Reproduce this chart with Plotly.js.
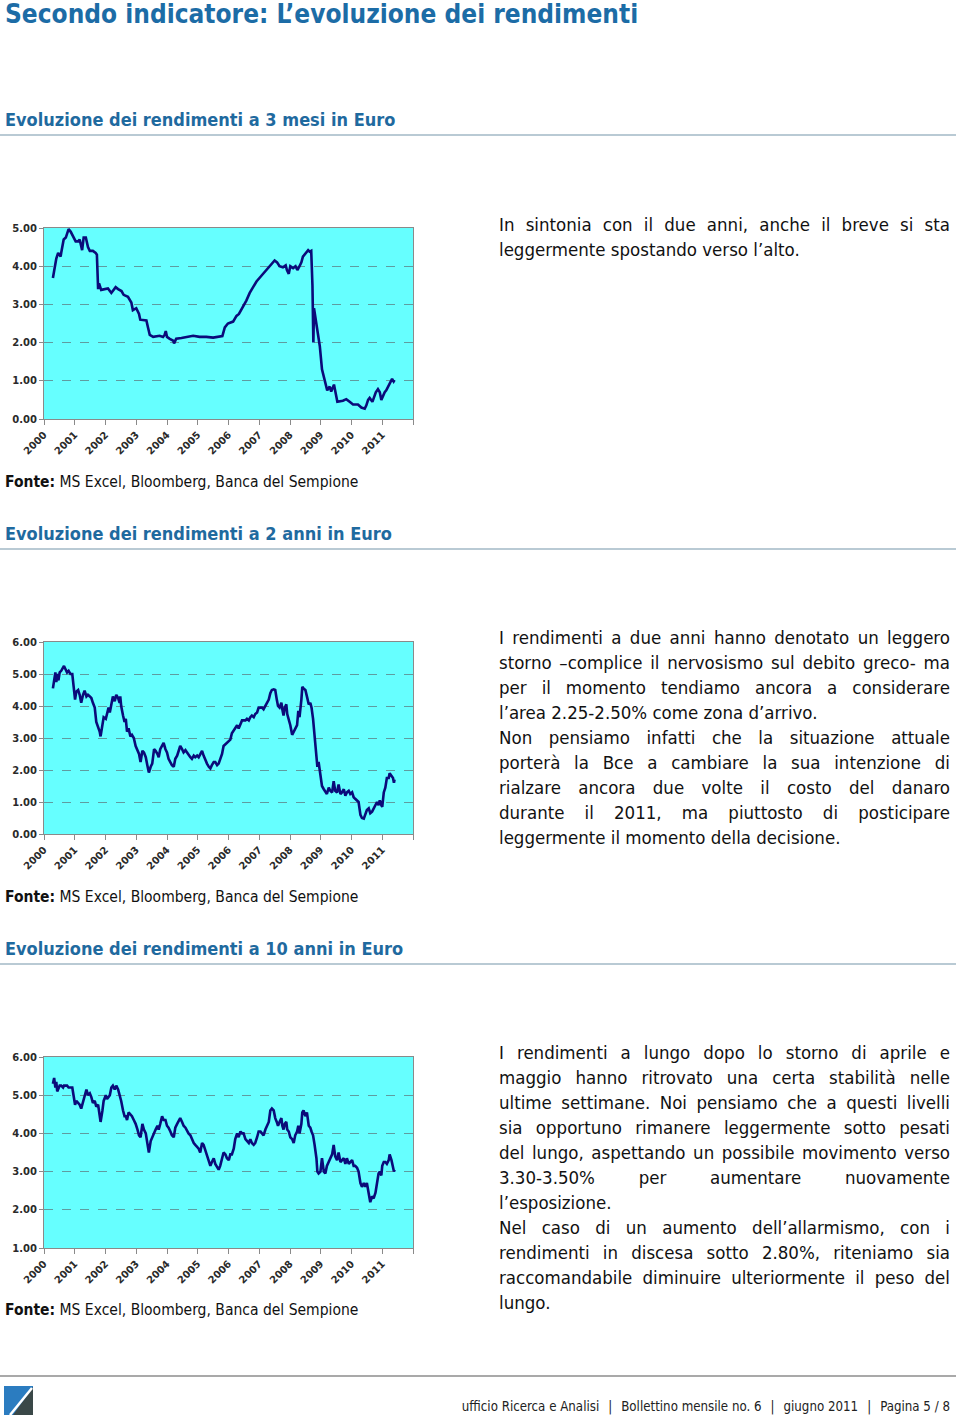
<!DOCTYPE html>
<html>
<head>
<meta charset="utf-8">
<script src="https://cdn.plot.ly/plotly-3.0.1.min.js"></script>
<style>
  html, body { margin:0; padding:0; background:#fff; }
  body { width:960px; height:1418px; position:relative; overflow:hidden;
         font-family:"Liberation Sans Narrow","Arial Narrow","DejaVu Sans Condensed",Lato,sans-serif; color:#111; }
  .abs { position:absolute; white-space:nowrap; }
  .title { left:5px; top:0px; font-size:26px; line-height:28px; font-weight:bold; color:#1c6ca6; }
  .hdr { left:5px; font-size:18px; font-weight:bold; color:#1f6a9f; }
  .rule { position:absolute; left:0; width:956px; height:2px; background:#b9cad4; }
  .fonte { left:5px; font-size:15.5px; color:#111; }
  .fonte b { font-weight:bold; }
  .txt { position:absolute; left:499px; width:451px; font-size:18.5px; line-height:25px; color:#111; }
  .txt div { white-space:nowrap; }
  .txt .j { text-align:justify; text-align-last:justify; }
  .chart { position:absolute; left:0; width:420px; height:250px; }
  .footer { right:10px; top:1399px; font-size:13.2px; color:#222; }
  .footer .sep { display:inline-block; margin:0 9px; }
</style>
</head>
<body>

<div class="abs title">Secondo indicatore: L’evoluzione dei rendimenti</div>

<div class="abs hdr" style="top:109px">Evoluzione dei rendimenti a 3 mesi in Euro</div>
<div class="rule" style="top:134px"></div>
<div id="c1" class="chart" style="top:215px"></div>
<div class="txt" style="top:212px">
  <div class="j">In sintonia con il due anni, anche il breve si sta</div>
  <div>leggermente spostando verso l’alto.</div>
</div>
<div class="abs fonte" style="top:473px"><b>Fonte:</b> MS Excel, Bloomberg, Banca del Sempione</div>

<div class="abs hdr" style="top:523px">Evoluzione dei rendimenti a 2 anni in Euro</div>
<div class="rule" style="top:548px"></div>
<div id="c2" class="chart" style="top:629px"></div>
<div class="txt" style="top:625px">
  <div class="j">I rendimenti a due anni hanno denotato un leggero</div>
  <div class="j">storno –complice il nervosismo sul debito greco- ma</div>
  <div class="j">per il momento tendiamo ancora a considerare</div>
  <div>l’area 2.25-2.50% come zona d’arrivo.</div>
  <div class="j">Non pensiamo infatti che la situazione attuale</div>
  <div class="j">porterà la Bce a cambiare la sua intenzione di</div>
  <div class="j">rialzare ancora due volte il costo del danaro</div>
  <div class="j">durante il 2011, ma piuttosto di posticipare</div>
  <div>leggermente il momento della decisione.</div>
</div>
<div class="abs fonte" style="top:888px"><b>Fonte:</b> MS Excel, Bloomberg, Banca del Sempione</div>

<div class="abs hdr" style="top:938px">Evoluzione dei rendimenti a 10 anni in Euro</div>
<div class="rule" style="top:963px"></div>
<div id="c3" class="chart" style="top:1044px"></div>
<div class="txt" style="top:1040px">
  <div class="j">I rendimenti a lungo dopo lo storno di aprile e</div>
  <div class="j">maggio hanno ritrovato una certa stabilità nelle</div>
  <div class="j">ultime settimane. Noi pensiamo che a questi livelli</div>
  <div class="j">sia opportuno rimanere leggermente sotto pesati</div>
  <div class="j">del lungo, aspettando un possibile movimento verso</div>
  <div class="j">3.30-3.50% per aumentare nuovamente</div>
  <div>l’esposizione.</div>
  <div class="j">Nel caso di un aumento dell’allarmismo, con i</div>
  <div class="j">rendimenti in discesa sotto 2.80%, riteniamo sia</div>
  <div class="j">raccomandabile diminuire ulteriormente il peso del</div>
  <div>lungo.</div>
</div>
<div class="abs fonte" style="top:1301px"><b>Fonte:</b> MS Excel, Bloomberg, Banca del Sempione</div>

<div class="rule" style="top:1375px; background:#a9a9a9; height:2px;"></div>
<svg style="position:absolute; left:4px; top:1386px" width="29" height="29" viewBox="0 0 29 29">
  <rect x="0" y="0" width="29" height="29" fill="#2b7cc0"/>
  <polygon points="29,1 29,29 9,29" fill="#3a4848"/>
  <line x1="6" y1="29" x2="28" y2="2" stroke="#ffffff" stroke-width="2.5"/>
</svg>
<div class="abs footer">ufficio Ricerca e Analisi<span class="sep">|</span>Bollettino mensile no. 6<span class="sep">|</span>giugno 2011<span class="sep">|</span>Pagina 5 / 8</div>

<script>
// ---- Data (decimal years, yields in %) ----
const years3m = [2000.29,2000.40,2000.46,2000.54,2000.56,2000.64,2000.71,2000.76,2000.80,2000.87,2000.94,
  2001.03,2001.11,2001.16,2001.24,2001.29,2001.36,2001.43,2001.49,2001.59,2001.68,2001.72,2001.76,2001.79,2001.86,
  2002.03,2002.08,2002.19,2002.24,2002.33,2002.41,2002.52,2002.59,2002.73,2002.84,2002.89,
  2003.00,2003.09,2003.13,2003.33,2003.38,2003.44,2003.55,2003.76,2003.87,2003.92,2003.96,
  2004.00,2004.09,2004.20,2004.23,2004.30,2004.47,2004.63,2004.85,
  2005.06,2005.28,2005.50,2005.71,2005.80,2005.88,2005.98,
  2006.15,2006.26,2006.34,2006.45,2006.58,2006.69,2006.80,2006.91,
  2007.07,2007.23,2007.39,2007.50,2007.58,2007.66,2007.77,2007.86,2007.90,2007.96,
  2008.01,2008.10,2008.18,2008.24,2008.31,2008.37,2008.42,2008.51,2008.59,2008.64,2008.69,2008.73,2008.76,2008.78,2008.82,2008.89,2008.97,
  2009.04,2009.13,2009.21,2009.29,2009.34,2009.43,2009.49,2009.54,2009.72,2009.83,2009.94,
  2010.05,2010.21,2010.32,2010.43,2010.48,2010.54,2010.59,2010.68,2010.72,2010.79,2010.86,2010.92,2010.97,
  2011.02,2011.08,2011.13,2011.19,2011.26,2011.32,2011.37,2011.40];
const yield3m = [3.69,4.20,4.35,4.25,4.35,4.70,4.75,4.85,4.97,4.90,4.80,
  4.65,4.65,4.70,4.42,4.75,4.75,4.50,4.40,4.40,4.35,4.30,3.40,3.55,3.38,
  3.40,3.42,3.30,3.35,3.45,3.40,3.35,3.25,3.20,3.05,2.85,
  2.90,2.75,2.60,2.58,2.40,2.20,2.15,2.18,2.15,2.20,2.30,
  2.15,2.10,2.05,1.98,2.10,2.12,2.15,2.18,
  2.15,2.15,2.13,2.15,2.17,2.40,2.50,
  2.55,2.70,2.75,2.90,3.10,3.30,3.45,3.60,
  3.75,3.90,4.05,4.15,4.10,4.00,3.97,4.02,3.90,3.80,
  4.00,3.95,4.00,3.90,4.00,4.10,4.25,4.35,4.42,4.38,4.40,3.50,2.00,2.90,2.70,2.30,1.90,
  1.30,1.00,0.75,0.85,0.72,0.90,0.65,0.45,0.48,0.52,0.45,
  0.38,0.38,0.30,0.27,0.35,0.50,0.55,0.45,0.55,0.70,0.78,0.70,0.50,
  0.60,0.70,0.75,0.85,0.95,1.05,0.98,1.02];

const yearsLong = [2000.29,2000.33,2000.37,2000.40,2000.43,2000.47,2000.51,2000.56,2000.62,2000.65,2000.70,2000.75,2000.80,2000.86,2000.92,2000.96,
  2001.01,2001.05,2001.11,2001.16,2001.21,2001.27,2001.32,2001.38,2001.43,2001.49,2001.54,2001.59,2001.65,2001.70,2001.76,2001.81,2001.84,2001.90,2001.94,
  2002.01,2002.05,2002.10,2002.14,2002.19,2002.24,2002.30,2002.35,2002.41,2002.46,2002.48,2002.51,2002.57,2002.62,2002.66,2002.70,2002.75,2002.81,2002.86,2002.92,2002.98,
  2003.04,2003.09,2003.14,2003.20,2003.25,2003.31,2003.36,2003.41,2003.47,2003.52,2003.58,2003.63,2003.69,2003.73,2003.78,2003.84,2003.89,2003.95,
  2004.00,2004.05,2004.11,2004.16,2004.22,2004.27,2004.33,2004.38,2004.43,2004.49,2004.54,2004.60,2004.65,2004.70,2004.76,2004.81,2004.87,2004.92,2004.98,
  2005.03,2005.08,2005.14,2005.19,2005.25,2005.30,2005.36,2005.41,2005.46,2005.52,2005.57,2005.63,2005.68,2005.73,2005.79,2005.84,2005.90,2005.95,
  2006.01,2006.06,2006.11,2006.17,2006.22,2006.28,2006.33,2006.39,2006.44,2006.49,2006.55,2006.60,2006.66,2006.71,2006.76,2006.82,2006.87,2006.93,2006.98,
  2007.04,2007.09,2007.14,2007.20,2007.25,2007.31,2007.36,2007.41,2007.47,2007.52,2007.57,2007.61,2007.66,2007.72,2007.75,2007.79,2007.83,2007.88,2007.91,2007.96,
  2008.01,2008.07,2008.12,2008.17,2008.23,2008.27,2008.31,2008.37,2008.40,2008.44,2008.50,2008.55,2008.61,2008.66,2008.70,2008.75,2008.80,2008.86,2008.89,2008.93,2008.99,
  2009.04,2009.10,2009.15,2009.20,2009.26,2009.31,2009.37,2009.42,2009.47,2009.53,2009.58,2009.64,2009.69,2009.75,2009.80,2009.85,2009.91,2009.96,
  2010.02,2010.07,2010.12,2010.18,2010.23,2010.29,2010.34,2010.40,2010.45,2010.50,2010.56,2010.61,2010.67,2010.72,2010.78,2010.83,2010.88,2010.92,2010.97,
  2011.00,2011.05,2011.10,2011.15,2011.21,2011.24,2011.30,2011.35,2011.38,2011.40];
const yield2y = [4.55,4.90,5.05,4.75,5.00,4.80,5.05,5.10,5.20,5.25,5.15,5.05,5.10,5.00,5.00,4.60,
  4.20,4.45,4.50,4.35,4.10,4.35,4.48,4.30,4.35,4.30,4.25,4.10,3.95,3.50,3.35,3.20,3.05,3.45,3.65,
  3.60,3.80,3.95,3.80,4.10,4.30,4.15,4.35,4.25,4.10,4.30,4.00,3.70,3.50,3.60,3.20,3.30,3.05,3.10,3.00,2.75,
  2.60,2.50,2.25,2.60,2.55,2.40,2.15,1.92,2.10,2.20,2.65,2.60,2.50,2.40,2.65,2.75,2.85,2.65,
  2.55,2.35,2.25,2.15,2.10,2.35,2.45,2.60,2.75,2.65,2.55,2.62,2.55,2.45,2.40,2.35,2.45,2.40,2.45,
  2.40,2.50,2.60,2.45,2.30,2.20,2.10,2.05,2.15,2.25,2.25,2.15,2.20,2.35,2.50,2.75,2.80,2.85,
  2.90,2.95,3.15,3.25,3.30,3.40,3.30,3.45,3.55,3.55,3.55,3.60,3.55,3.65,3.70,3.65,3.75,3.80,3.95,
  3.95,3.95,3.90,4.00,4.10,4.20,4.40,4.50,4.52,4.50,4.20,4.00,3.95,4.10,3.90,3.70,3.95,4.05,3.75,3.60,
  3.40,3.10,3.20,3.30,3.40,3.85,3.65,4.20,4.60,4.55,4.50,4.30,4.05,4.10,3.95,3.60,3.00,2.30,2.10,2.25,1.75,
  1.50,1.40,1.30,1.25,1.45,1.35,1.30,1.65,1.35,1.30,1.55,1.25,1.30,1.40,1.20,1.30,1.35,1.25,
  1.30,1.15,1.10,1.05,1.00,0.60,0.50,0.48,0.60,0.75,0.80,0.65,0.70,0.80,0.90,1.00,0.90,1.05,0.90,
  0.85,1.30,1.45,1.75,1.75,1.90,1.80,1.75,1.60,1.70];
const yield10y = [5.30,5.45,5.20,5.35,5.10,5.20,5.25,5.25,5.20,5.25,5.25,5.25,5.20,5.20,5.20,5.00,
  4.75,4.85,4.80,4.75,4.65,4.85,4.95,5.15,5.00,5.05,4.95,4.80,4.85,4.70,4.75,4.50,4.30,4.60,4.85,
  5.00,4.90,4.95,5.00,5.20,5.25,5.15,5.25,5.15,5.00,5.00,4.85,4.60,4.45,4.45,4.35,4.55,4.50,4.45,4.35,4.25,
  4.10,3.95,3.90,4.25,4.10,4.00,3.75,3.50,3.80,3.90,4.05,4.10,4.20,4.10,4.25,4.45,4.35,4.35,
  4.20,4.15,4.05,3.95,3.90,4.15,4.25,4.35,4.40,4.30,4.20,4.15,4.05,4.00,3.95,3.85,3.75,3.70,3.65,
  3.60,3.50,3.75,3.70,3.55,3.40,3.30,3.15,3.25,3.35,3.20,3.10,3.05,3.15,3.35,3.50,3.45,3.35,
  3.30,3.45,3.45,3.60,3.85,4.00,3.90,4.05,4.00,4.00,3.85,3.80,3.75,3.85,3.75,3.70,3.75,3.90,4.05,
  4.05,4.00,3.95,4.10,4.20,4.30,4.60,4.65,4.60,4.40,4.30,4.20,4.30,4.40,4.20,4.10,4.25,4.30,4.10,4.05,
  3.90,3.85,3.75,3.95,4.05,4.20,4.00,4.25,4.55,4.60,4.45,4.55,4.20,4.15,4.05,3.95,3.70,3.35,3.00,2.95,3.00,
  3.35,3.00,2.95,3.15,3.25,3.35,3.45,3.70,3.40,3.30,3.50,3.25,3.30,3.35,3.20,3.35,3.20,3.25,
  3.30,3.15,3.15,3.10,3.00,2.70,2.60,2.70,2.60,2.70,2.40,2.20,2.35,2.30,2.45,2.70,2.95,3.00,2.90,
  3.15,3.25,3.25,3.20,3.30,3.45,3.30,3.10,3.00,3.05];

const tickYears = [2000,2001,2002,2003,2004,2005,2006,2007,2008,2009,2010,2011,2012];
const tickLabels = ['2000','2001','2002','2003','2004','2005','2006','2007','2008','2009','2010','2011',''];

function draw(id, xs, ys, yRange, topMargin, bottomMargin) {
  const tickFont = {family:'DejaVu Sans, Verdana, sans-serif', size:10, weight:'bold', color:'#2a2a2a'};
  const trace = {x:xs, y:ys, type:'scatter', mode:'lines',
                 line:{color:'#0b0b7a', width:2.6}, hoverinfo:'skip'};
  const layout = {
    width:420, height:250,
    margin:{l:44, r:7, t:topMargin, b:bottomMargin, pad:0},
    paper_bgcolor:'rgba(0,0,0,0)', plot_bgcolor:'#66ffff',
    showlegend:false,
    xaxis:{type:'linear', range:[2000,2012], tickmode:'array', tickvals:tickYears, ticktext:tickLabels,
           tickangle:-45, ticks:'outside', ticklen:5, tickcolor:'#8a8a8a', tickwidth:1,
           showline:true, linecolor:'#8a8a8a', linewidth:1, mirror:true,
           showgrid:false, zeroline:false, tickfont:tickFont, fixedrange:true},
    yaxis:{range:yRange, dtick:1, tick0:0, tickformat:'.2f', ticks:'outside', ticklen:4,
           tickcolor:'#8a8a8a', showline:true, linecolor:'#8a8a8a', linewidth:1, mirror:true,
           showgrid:true, gridcolor:'#5f9ca0', gridwidth:1, griddash:'dash',
           zeroline:false, tickfont:tickFont, fixedrange:true}
  };
  Plotly.newPlot(id, [trace], layout, {staticPlot:true, displayModeBar:false});
}

draw('c1', years3m, yield3m, [0,5], 13, 46);
draw('c2', yearsLong, yield2y, [0,6], 13, 45);
draw('c3', yearsLong, yield10y, [1,6], 13, 46);

// shrink a text block if any of its lines is wider than the column
document.querySelectorAll('.txt').forEach(function(block) {
  let size = parseFloat(getComputedStyle(block).fontSize);
  const tooWide = function() {
    return Array.from(block.children).some(function(d) { return d.scrollWidth > block.clientWidth + 0.5; });
  };
  let guard = 0;
  while (tooWide() && guard < 20) { size -= 0.25; block.style.fontSize = size + 'px'; guard++; }
});
</script>
</body>
</html>
